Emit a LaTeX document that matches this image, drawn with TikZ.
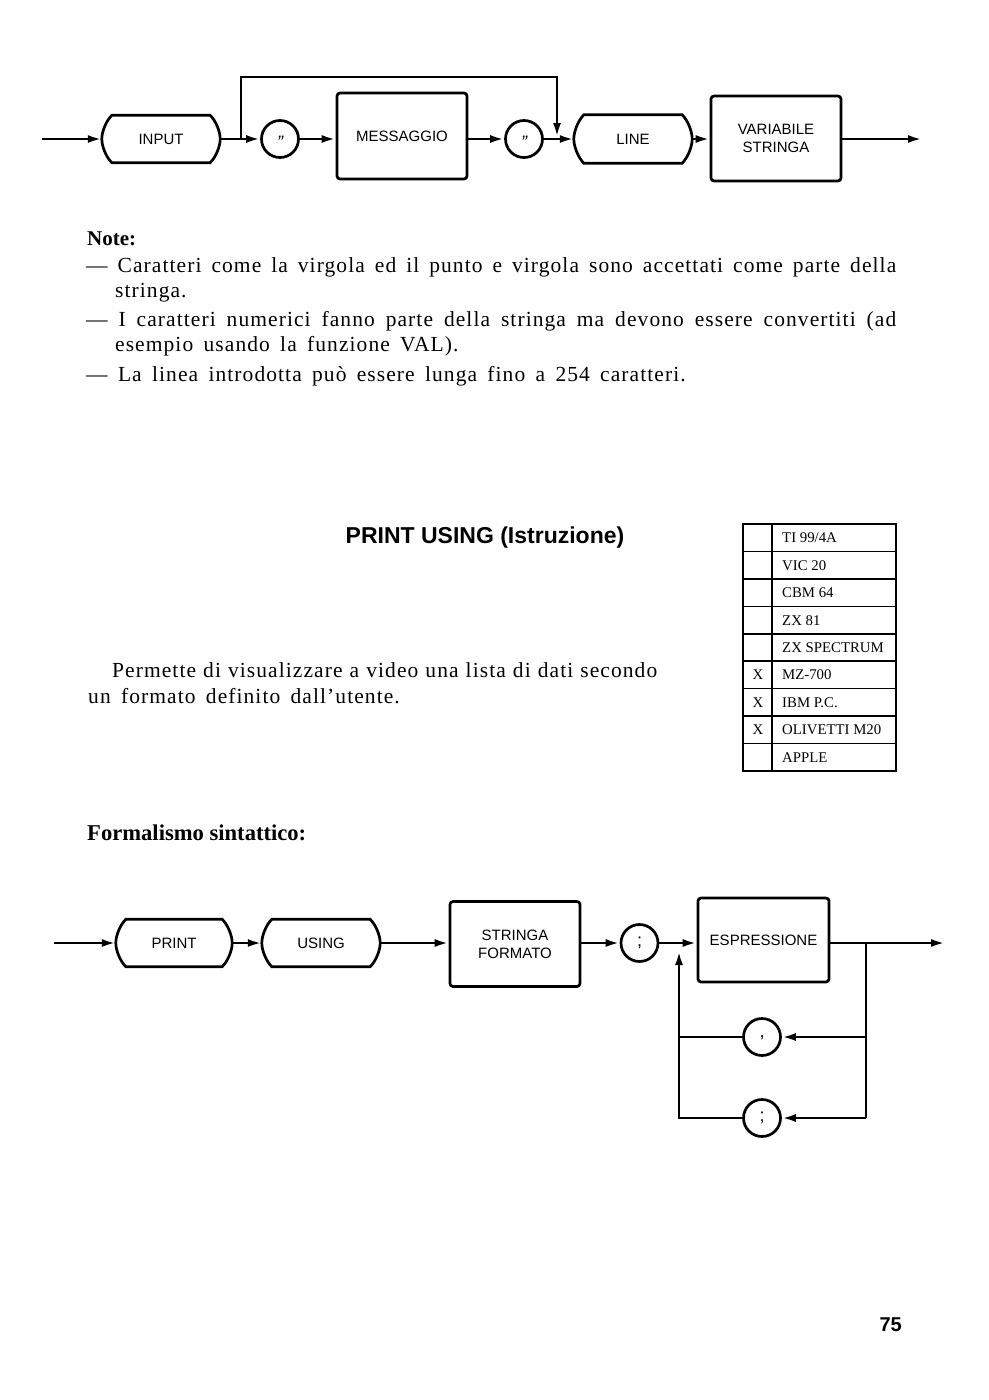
\documentclass[tikz,border=0pt]{standalone}
\usepackage{fontspec}
\setmainfont{Liberation Serif}
\newfontfamily\hv{Liberation Sans}
\newfontfamily\bodyfont[LetterSpace=5,WordSpace={1.6}]{Liberation Serif}
\usetikzlibrary{arrows.meta,calc}
\tikzset{
  ln/.style={line width=2.7pt},
  arr/.style={ln,-{Latex[length=14pt,width=8pt]}},
  lbl/.style={font=\hv\fontsize{15}{18}\selectfont,align=center,inner sep=0pt},
  rbox/.style={lbl,draw,ln,rounded corners=3pt},
  term/.style={lbl},
  circ/.style={draw,ln,circle,minimum size=37pt,inner sep=0pt,text height=0pt,text depth=0pt,font=\hv\fontsize{18}{18}\selectfont},
  body/.style={anchor=base west,inner sep=0pt,font=\bodyfont\fontsize{21.5}{25}\selectfont},
  cell/.style={anchor=base west,inner sep=0pt,font=\fontsize{14.8}{16}\selectfont},
  tline/.style={line width=1.6pt}
}
\newcommand\termdraw[1]{%
  \draw[ln] ([xshift=10pt]#1.north west)
    .. controls ([xshift=4pt,yshift=-6pt]#1.north west) and ([yshift=7pt]#1.west) .. (#1.west)
    .. controls ([yshift=-7pt]#1.west) and ([xshift=4pt,yshift=6pt]#1.south west) .. ([xshift=10pt]#1.south west)
    -- ([xshift=-10pt]#1.south east)
    .. controls ([xshift=-4pt,yshift=6pt]#1.south east) and ([yshift=-7pt]#1.east) .. (#1.east)
    .. controls ([yshift=7pt]#1.east) and ([xshift=-4pt,yshift=-6pt]#1.north east) .. ([xshift=-10pt]#1.north east)
    -- cycle;}
\begin{document}
\begin{tikzpicture}[x=1pt,y=-1pt]
\fill[white] (0,0) rectangle (988,1400);
\useasboundingbox (0,0) rectangle (988,1400);

% ---------- top diagram ----------
\coordinate (tin) at (42,139);
\coordinate (lp) at (241,139);
\coordinate (lpt) at (241,77);
\coordinate (ldt) at (557,77);
\coordinate (ld) at (557,137);
\coordinate (tout) at (922,139);
\node[term,minimum width=118pt,minimum height=47pt] (input) at (161,139) {INPUT};
\termdraw{input}
\node[circ] (q1) at (280,139) {\raisebox{-0.55em}{\itshape ”}};
\node[rbox,minimum width=130pt,minimum height=86pt] (mess) at (402,136) {MESSAGGIO};
\node[circ] (q2) at (524,139) {\raisebox{-0.55em}{\itshape ”}};
\node[term,minimum width=118pt,minimum height=48pt] (line) at (633,139) {LINE};
\termdraw{line}
\node[rbox,minimum width=130pt,minimum height=85pt] (var) at (776,138.5) {VARIABILE\\STRINGA};

\draw[arr] (tin) -- (input.west);
\draw[arr] (input.east) -- (q1.west);
\draw[arr] (lp) -- (lpt) -- (ldt) -- (ld);
\draw[arr] (q1.east) -- (q1.east -| mess.west);
\draw[arr] (q1.east -| mess.east) -- (q2.west);
\draw[arr] (q2.east) -- (line.west);
\draw[arr] (line.east) -- (line.east -| var.west);
\draw[arr] (line.east -| var.east) -- (tout);

% ---------- notes ----------
\node[body,font=\bfseries\fontsize{21}{25}\selectfont] (note) at (87,245) {Note:};
\node[body] (n1) at (86,272) {\makebox[810pt][s]{— Caratteri come la virgola ed il punto e virgola sono accettati come parte della}};
\node[body] (n2) at (115,297) {stringa.};
\node[body] (n3) at (86,326) {\makebox[810pt][s]{— I caratteri numerici fanno parte della stringa ma devono essere convertiti (ad}};
\node[body] (n4) at (115,351) {esempio usando la funzione VAL).};
\node[body] (n5) at (86,381) {— La linea introdotta può essere lunga fino a 254 caratteri.};

% ---------- title ----------
\node[anchor=base,inner sep=0pt,font=\hv\bfseries\fontsize{23}{26}\selectfont] (title) at (485,543) {PRINT USING (Istruzione)};

\node[body] (p1) at (112,677) {\makebox[545pt][s]{Permette di visualizzare a video una lista di dati secondo}};
\node[body] (p2) at (88,703) {un formato definito dall’utente.};

% ---------- table ----------
\draw[line width=1.9pt] (743,524) rectangle (896,771);
\draw[line width=2.9pt] (772,524) -- (772,771);
\foreach \i in {1,...,8} {
  \draw[tline] (743,524+27.44*\i) -- (896,524+27.44*\i);
}
\foreach \t [count=\i from 0] in {TI 99/4A,VIC 20,CBM 64,ZX 81,ZX SPECTRUM,MZ-700,IBM P.C.,OLIVETTI M20,APPLE} {
  \node[cell] (c\i) at (782,524+27.44*\i+13.72+5) {\t};
}
\foreach \i in {5,6,7} {
  \node[cell,anchor=base] (x\i) at (758,524+27.44*\i+13.72+5) {X};
}

\node[body,font=\bfseries\fontsize{22.6}{25}\selectfont] (form) at (87,840) {Formalismo sintattico:};

% ---------- bottom diagram ----------
\coordinate (bin) at (54,943);
\coordinate (jl) at (679,943);
\coordinate (jlup) at (679,951);
\coordinate (jr) at (866,943);
\coordinate (bout) at (945,943);
\coordinate (ml) at (679,1037);
\coordinate (mr) at (866,1037);
\coordinate (ll) at (679,1118);
\coordinate (lr) at (866,1118);
\node[term,minimum width=116pt,minimum height=47pt] (print) at (174,943) {PRINT};
\termdraw{print}
\node[term,minimum width=118pt,minimum height=47pt] (using) at (321,943) {USING};
\termdraw{using}
\node[rbox,minimum width=130pt,minimum height=85pt] (sf) at (515,944) {STRINGA\\FORMATO};
\node[circ] (semi) at (639.5,943) {\raisebox{-0.2em}{;}};
\node[rbox,minimum width=131pt,minimum height=84pt] (esp) at (763.5,940) {ESPRESSIONE};
\node[circ] (comma) at (762,1037) {,};
\node[circ] (semib) at (762,1118) {\raisebox{-0.2em}{;}};

\draw[arr] (bin) -- (print.west);
\draw[arr] (print.east) -- (using.west);
\draw[arr] (using.east) -- (using.east -| sf.west);
\draw[arr] (sf.east |- semi) -- (semi.west);
\draw[arr] (semi.east) -- (semi.east -| esp.west);
\draw[arr] (esp.east |- bout) -- (bout);
\draw[ln] (jr) -- (lr);
\draw[arr] (mr) -- (comma.east);
\draw[arr] (lr) -- (semib.east);
\draw[ln] (comma.west) -- (ml);
\draw[arr] (semib.west) -- (ll) -- (jlup);

% ---------- page number ----------
\node[anchor=base east,inner sep=0pt,font=\hv\bfseries\fontsize{20}{24}\selectfont] (pg) at (902,1331) {75};
\end{tikzpicture}
\end{document}
